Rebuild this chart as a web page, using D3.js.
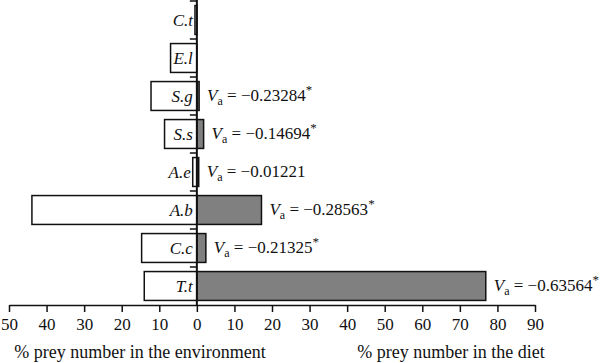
<!DOCTYPE html>
<html lang="en">
<head>
    <meta charset="utf-8"/>
    <title>Prey selectivity</title>
    <script src="https://d3js.org/d3.v7.min.js"></script>
    <style>
        body { margin: 0; background: #fff; }
        svg text { font-family: "Liberation Serif", "Times New Roman", serif; fill: #111; }
    </style>
</head>
<body>
<script>
    // prey species, top to bottom
    const species = ["C.t", "E.l", "S.g", "S.s", "A.e", "A.b", "C.c", "T.t"];
    // % prey number in the environment (drawn to the left)
    const envPct = [0.5, 7.0, 12.2, 8.6, 1.1, 43.9, 14.7, 14.0];
    // % prey number in the diet (drawn to the right)
    const dietPct = [0, 0, 0.6, 1.8, 0.5, 17.2, 2.4, 76.9];
    // Ivlev's index labels, null where none is shown
    const vaValue = [null, null, "\u22120.23284", "\u22120.14694", "\u22120.01221", "\u22120.28563", "\u22120.21325", "\u22120.63564"];
    const vaStar = [false, false, true, true, false, true, true, true];
    const xTicks = [-50, -40, -30, -20, -10, 0, 10, 20, 30, 40, 50, 60, 70, 80, 90];

    const width = 600, height = 363;
    const serif = "Liberation Serif, Times New Roman, serif";
    const svg = d3.select("body").append("svg")
        .attr("width", width)
        .attr("height", height)
        .attr("font-family", serif);

    const x = d3.scaleLinear().domain([-50, 90]).range([9, 535]);
    const y = d3.scaleBand().domain(species).range([1, 305])
        .paddingInner(0.24).paddingOuter(0.12);

    const rows = species.map((s, i) => ({s, env: envPct[i], diet: dietPct[i], va: vaValue[i], star: vaStar[i]}));

    // environment bars (white)
    svg.selectAll("rect.env")
        .data(rows)
        .enter().append("rect")
        .attr("class", "env")
        .attr("x", d => x(-d.env))
        .attr("y", d => y(d.s))
        .attr("width", d => x(0) - x(-d.env))
        .attr("height", y.bandwidth())
        .attr("fill", "#fff")
        .attr("stroke", "#111")
        .attr("stroke-width", 1.5);

    // diet bars (grey)
    svg.selectAll("rect.diet")
        .data(rows.filter(d => d.diet > 0))
        .enter().append("rect")
        .attr("class", "diet")
        .attr("x", x(0))
        .attr("y", d => y(d.s))
        .attr("width", d => x(d.diet) - x(0))
        .attr("height", y.bandwidth())
        .attr("fill", "#808080")
        .attr("stroke", "#111")
        .attr("stroke-width", 1.5);

    // species names, italic, just left of the centre line
    // (pushed past the bar when the bar is only a sliver)
    svg.selectAll("text.sp")
        .data(rows)
        .enter().append("text")
        .attr("class", "sp")
        .attr("x", d => x(-d.env) > x(0) - 6 ? x(-d.env) - 2 : x(0) - 4)
        .attr("y", d => y(d.s) + y.bandwidth() / 2 + 5.5)
        .attr("text-anchor", "end")
        .attr("font-family", serif)
        .attr("font-style", "italic")
        .attr("font-size", 17)
        .text(d => d.s);

    // V_a labels
    const va = svg.selectAll("text.va")
        .data(rows.filter(d => d.va))
        .enter().append("text")
        .attr("class", "va")
        .attr("x", d => x(d.diet) + 8)
        .attr("y", d => y(d.s) + y.bandwidth() / 2 + 5)
        .attr("font-family", serif)
        .attr("font-size", 17);
    va.append("tspan").attr("font-style", "italic").text("V");
    va.append("tspan").attr("font-size", 12).attr("dy", 4).text("a");
    va.append("tspan").attr("dy", -4).text(d => " = " + d.va);
    va.filter(d => d.star).append("tspan").attr("font-size", 13).attr("dy", -7).text("*");

    // x axis, labels show absolute values
    const xAxis = d3.axisBottom(x)
        .tickValues(xTicks)
        .tickFormat(d => Math.abs(d))
        .tickSize(7)
        .tickSizeOuter(0);
    const gx = svg.append("g")
        .attr("transform", "translate(0,305)")
        .call(xAxis)
        .attr("font-family", serif);
    gx.select(".domain").attr("stroke", "#111").attr("stroke-width", 1.5);
    gx.selectAll(".tick line").attr("stroke", "#111").attr("stroke-width", 1.5);
    gx.selectAll(".tick text")
        .attr("font-family", serif)
        .attr("font-size", 17)
        .attr("fill", "#111")
        .attr("y", 10)
        .attr("dy", "0.9em");

    // centre line with small ticks at band edges
    svg.append("line")
        .attr("x1", x(0)).attr("x2", x(0))
        .attr("y1", 0).attr("y2", 305)
        .attr("stroke", "#111").attr("stroke-width", 2);
    svg.selectAll("line.ytick")
        .data(species)
        .enter().append("line")
        .attr("class", "ytick")
        .attr("x1", x(0) - 7).attr("x2", x(0))
        .attr("y1", d => y(d) - (y.step() - y.bandwidth()) / 2)
        .attr("y2", d => y(d) - (y.step() - y.bandwidth()) / 2)
        .attr("stroke", "#111").attr("stroke-width", 1.5);

    // axis titles
    svg.append("text")
        .attr("x", 140).attr("y", 358)
        .attr("text-anchor", "middle")
        .attr("font-family", serif)
        .attr("font-size", 18)
        .text("% prey number in the environment");
    svg.append("text")
        .attr("x", 451).attr("y", 358)
        .attr("text-anchor", "middle")
        .attr("font-family", serif)
        .attr("font-size", 18)
        .text("% prey number in the diet");
</script>
</body>
</html>
